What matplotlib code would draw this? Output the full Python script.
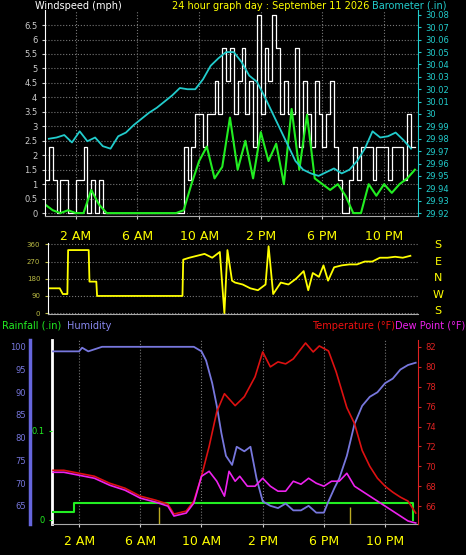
import numpy as np
import matplotlib.pyplot as plt

# ---- data ----
baro_h = np.arange(0.25, 24.01, 0.5)
baro = [29.980, 29.981, 29.983, 29.977, 29.986, 29.978, 29.981, 29.974, 29.972, 29.982,
        29.985, 29.991, 29.996, 30.001, 30.005, 30.010, 30.015, 30.021, 30.020, 30.020,
        30.028, 30.039, 30.045, 30.050, 30.050, 30.042, 30.031, 30.026, 30.014, 30.001,
        29.988, 29.975, 29.962, 29.955, 29.952, 29.950, 29.953, 29.956, 29.952, 29.955,
        29.962, 29.972, 29.986, 29.981, 29.982, 29.985, 29.979, 29.972]

wind_h = np.arange(0, 24.01, 0.5)
wind = [0.3, 0.1, 0.0, 0.1, 0.0, 0.0, 0.8, 0.3, 0.0, 0.0, 0.0, 0.0, 0.0, 0.0, 0.0, 0.0,
        0.0, 0.0, 0.1, 1.0, 1.8, 2.3, 1.2, 1.6, 3.3, 1.5, 2.5, 1.2, 2.8, 1.8, 2.4, 1.0,
        3.6, 1.5, 3.4, 1.2, 1.0, 0.8, 1.0, 0.6, 0.0, 0.0, 1.0, 0.6, 1.0, 0.7, 1.0, 1.2, 1.5]

gust_h = np.arange(0, 24.01, 0.25)
gust_lv = [1, 2, 1, 0, 1, 1, 0, 0, 1, 1, 2, 0, 1, 0, 1, 0] + [0] * 20 + \
          [2, 1, 2, 3, 3, 2, 3, 3, 4, 3, 5, 4, 5, 3, 4, 5, 3, 4, 2, 6, 3, 5, 4, 6,
           5, 3, 4, 3, 3, 5, 2, 4, 3, 2, 4, 3, 2, 3, 4, 2, 1, 0, 0, 1, 2, 1, 2, 2,
           2, 1, 2, 2, 2, 1, 2, 2, 2, 1, 3, 2, 2]
gust = np.array(gust_lv) * 1.14

dir_h = [0.25, 1.0, 1.2, 1.5, 1.55, 2.9, 2.95, 3.4, 3.45, 9.05, 9.1, 9.5, 10, 10.5, 11, 11.5,
         11.8, 12.0, 12.3, 12.5, 13, 13.5, 14, 14.5, 14.7, 15, 15.5, 16, 16.5, 17, 17.3, 17.6,
         18, 18.3, 18.6, 19, 19.5, 20, 20.5, 21, 21.5, 22, 22.5, 23, 23.5, 24]
wdir = [130, 130, 100, 100, 330, 330, 165, 165, 90, 90, 280, 290, 300, 310, 290, 320,
        0, 330, 170, 160, 150, 130, 120, 150, 350, 100, 160, 150, 180, 220, 120, 210,
        190, 250, 170, 240, 250, 255, 255, 270, 270, 290, 290, 295, 290, 300]

hum_h = [0.3, 2.0, 2.2, 2.6, 3.5, 9.5, 10, 10.3, 10.7, 11, 11.3, 11.6, 12, 12.3, 12.8, 13.2,
         13.6, 14, 14.5, 15, 15.5, 16, 16.5, 17, 17.5, 18, 18.3, 18.7, 19, 19.5, 20, 20.5,
         21, 21.5, 22, 22.5, 23, 23.5, 24]
hum = [99, 99, 99.8, 99, 100, 100, 99, 97, 92, 87, 81, 76, 74, 78, 77, 78,
       71, 66, 65, 64.5, 65.5, 64, 64, 65, 63.5, 63.5, 66, 69, 71, 76, 83, 87,
       89, 90, 92, 93, 95, 96, 96.5]

temp_h = [0.3, 1, 2, 3, 4, 5, 6, 7, 7.8, 8.2, 9, 9.5, 10, 10.5, 11, 11.5, 12.2, 12.8, 13.5,
          14, 14.5, 15, 15.5, 16, 16.8, 17.3, 17.7, 18.3, 18.8, 19.5, 20, 20.5, 21, 21.5,
          22, 22.5, 23, 23.5, 24]
temp = [69.6, 69.6, 69.3, 69.0, 68.3, 67.8, 67.0, 66.6, 66.2, 65.2, 65.5, 66.5, 69.0, 72.0,
        75.5, 77.3, 76.1, 77.0, 79.0, 81.5, 80.0, 80.5, 80.3, 80.8, 82.4, 81.5, 82.1, 81.6,
        79.5, 75.9, 74.3, 71.6, 70.0, 68.8, 68.0, 67.4, 66.9, 66.5, 65.3]

dew_h = [0.3, 1, 2, 3, 4, 5, 6, 7, 7.8, 8.2, 9, 9.5, 10, 10.5, 11, 11.5, 11.8, 12.2, 12.5,
         13, 13.5, 14, 14.5, 15, 15.5, 16, 16.5, 17, 17.5, 18, 18.5, 19, 19.5, 20, 20.5,
         21, 21.5, 22, 22.5, 23, 23.5, 24]
dew = [69.4, 69.4, 69.1, 68.8, 68.1, 67.6, 66.8, 66.4, 66.0, 65.0, 65.3, 66.3, 69.0, 69.5,
       68.5, 67.0, 69.5, 68.5, 69.0, 68.0, 68.0, 68.8, 68.0, 67.5, 67.5, 68.5, 68.2, 68.8,
       68.3, 68.0, 68.5, 68.5, 69.3, 68.0, 67.5, 67.0, 66.5, 66.0, 65.5, 65.0, 64.5, 64.3]

rain_h = [0.3, 1.7, 1.7, 23.8, 23.8]
rain = [0.009, 0.009, 0.019, 0.019, 0.0]

sun_marks = [7.2, 19.7]
hour_ticks = [2, 6, 10, 14, 18, 22]
hour_labels = ['2 AM', '6 AM', '10 AM', '2 PM', '6 PM', '10 PM']

W, H = 466, 555
fig = plt.figure(figsize=(W / 100, H / 100), dpi=100, facecolor='black')


def rect(x0, y0, x1, y1):
    return [x0 / W, 1 - y1 / H, (x1 - x0) / W, (y1 - y0) / H]


def style(ax):
    ax.set_facecolor('black')
    for s in ax.spines.values():
        s.set_visible(False)
    ax.grid(True, color='#777777', ls=':', lw=0.8)
    ax.tick_params(colors='#cccccc', labelsize=6, length=2)


YEL = '#ffff00'
CYAN = '#22cccc'

# ---- panel 1: wind + barometer ----
ax1 = fig.add_axes(rect(45, 10, 418, 216))
style(ax1)
ax1.step(gust_h, gust, where='post', color='white', lw=0.9)
ax1.plot(wind_h, wind, color='#22ee22', lw=1.5)
ax1.set_xlim(0, 24.2)
ax1.set_ylim(-0.10, 7.02)
ax1.set_yticks(np.arange(0, 6.6, 0.5))
ax1.set_yticklabels([f'{v:g}' for v in np.arange(0, 6.6, 0.5)])
ax1.set_xticks(hour_ticks)
ax1.set_xticklabels(hour_labels, color=YEL, fontsize=9)
ax1.tick_params(axis='x', pad=8)
ax1.spines['left'].set_visible(True)
ax1.spines['left'].set_color('white')
ax1.spines['bottom'].set_visible(True)
ax1.spines['bottom'].set_color('#aaaaaa')
axb = ax1.twinx()
axb.plot(baro_h, baro, color=CYAN, lw=1.3)
axb.set_ylim(29.9176, 30.084)
axb.set_yticks(np.arange(29.92, 30.081, 0.01))
axb.set_yticklabels([f'{v:.2f}'.rstrip('0').rstrip('.') for v in np.arange(29.92, 30.081, 0.01)])
axb.tick_params(colors=CYAN, labelsize=6, length=2)
for s in axb.spines.values():
    s.set_visible(False)
axb.spines['right'].set_visible(True)
axb.spines['right'].set_color(CYAN)
fig.text(35 / W, 1 - 6 / H, 'Windspeed (mph)', color='white', fontsize=7, va='center')
fig.text(172 / W, 1 - 6 / H, '24 hour graph day : September 11 2026', color=YEL, fontsize=7, va='center')
fig.text(372 / W, 1 - 6 / H, 'Barometer (.in)', color=CYAN, fontsize=7, va='center')

# ---- panel 2: wind direction ----
ax2 = fig.add_axes(rect(48, 243, 418, 314))
style(ax2)
ax2.grid(axis='x', visible=False)
ax2.plot(dir_h, wdir, color=YEL, lw=1.3)
ax2.set_xlim(0.23, 24.5)
ax2.set_ylim(-4.4, 367)
ax2.set_yticks([0, 90, 180, 270, 360])
ax2.tick_params(axis='y', colors='#bbbb44', labelsize=5)
ax2.set_xticks([])
ax2.spines['left'].set_visible(True)
ax2.spines['left'].set_color('white')
ax2.spines['bottom'].set_visible(True)
ax2.spines['bottom'].set_color('#aaaaaa')
for lab, y in zip(['S', 'E', 'N', 'W', 'S'], [245, 262, 278, 295, 311]):
    fig.text(438 / W, 1 - y / H, lab, color=YEL, fontsize=8, ha='center', va='center')

# ---- panel 3: temperature / humidity / rain ----
fig.text(2 / W, 1 - 326 / H, 'Rainfall (.in)', color='#22ee22', fontsize=7, va='center')
fig.text(67 / W, 1 - 326 / H, 'Humidity', color='#8888ee', fontsize=7, va='center')
fig.text(312 / W, 1 - 326 / H, 'Temperature (°F)', color='#ee1111', fontsize=7, va='center')
fig.text(395 / W, 1 - 326 / H, 'Dew Point (°F)', color='#ee22ee', fontsize=7, va='center')

ax3 = fig.add_axes(rect(52, 340, 418, 524))
style(ax3)
ax3.set_xlim(0.23, 24.15)
ax3.set_xticks(hour_ticks)
ax3.set_xticklabels(hour_labels, color=YEL, fontsize=9)
ax3.tick_params(axis='x', pad=6)
ax3.set_yticks([])
ax3.spines['left'].set_visible(True)
ax3.spines['left'].set_color('white')
ax3.spines['left'].set_linewidth(2)
ax3.spines['bottom'].set_visible(True)
ax3.spines['bottom'].set_color('#aaaaaa')
ax3.vlines(sun_marks, 0, 0.09, transform=ax3.get_xaxis_transform(), color='#bbaa22', lw=1)

axr = ax3.twinx()
axr.yaxis.tick_left()
axr.plot(rain_h, rain, color='#22ee22', lw=1.5)
axr.set_ylim(-0.0045, 0.202)
axr.set_yticks([0, 0.1])
axr.set_yticklabels(['0', '0.1'])
axr.tick_params(colors='#22ee22', labelsize=6, length=2)
for s in axr.spines.values():
    s.set_visible(False)

axh = ax3.twinx()
axh.yaxis.tick_left()
axh.plot(hum_h, hum, color='#7777dd', lw=1.3)
axh.set_ylim(61.0, 101.5)
axh.set_yticks(range(65, 101, 5))
axh.tick_params(colors='#7777dd', labelsize=6, length=0, pad=3)
for s in axh.spines.values():
    s.set_visible(False)
axh.spines['left'].set_visible(True)
axh.spines['left'].set_position(('outward', 16))
axh.spines['left'].set_color('#6666dd')
axh.spines['left'].set_linewidth(2.5)

axt = ax3.twinx()
axt.plot(temp_h, temp, color='#dd1111', lw=1.2)
axt.plot(dew_h, dew, color='#ee22ee', lw=1.2)
axt.set_ylim(64.2, 82.7)
axt.set_yticks(range(66, 83, 2))
axt.tick_params(colors='#dd2222', labelsize=6, length=2)
for s in axt.spines.values():
    s.set_visible(False)
axt.spines['right'].set_visible(True)
axt.spines['right'].set_color('#dd2222')

fig.savefig('out.png', dpi=100, facecolor='black')
